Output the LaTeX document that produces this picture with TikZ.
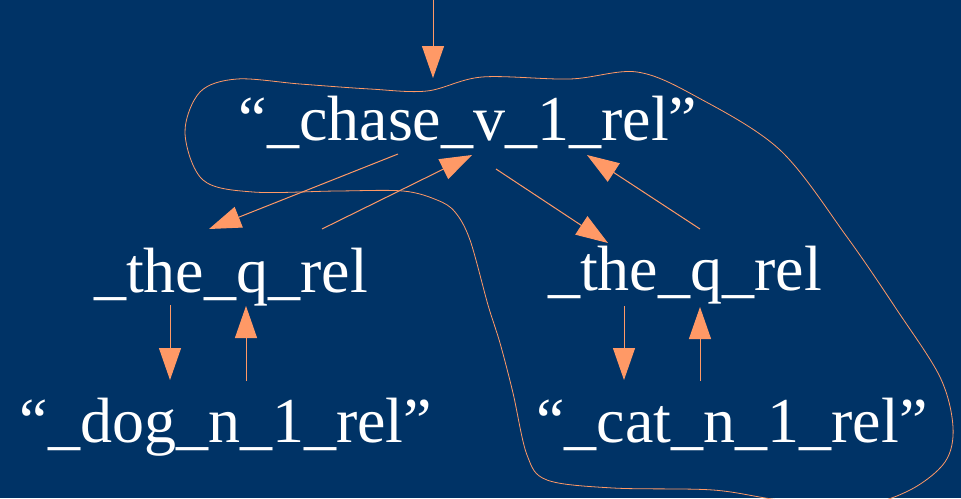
\documentclass[tikz,border=0pt]{standalone}
\usepackage{fontspec}
\setmainfont{Liberation Serif}
\usetikzlibrary{arrows.meta}
\definecolor{slide}{HTML}{003366}
\definecolor{peach}{HTML}{FF9966}
\newcommand{\relfont}{\fontsize{64}{72}\selectfont}

\begin{document}
\begin{tikzpicture}[x=1pt, y=-1pt,
  rel/.style={text=white, font=\relfont, inner sep=0pt, anchor=base},
  arrow/.style={draw=peach, line width=1pt,
    -{Triangle[length=32pt, width=22pt, fill=peach]}}
]
\fill[slide] (0,0) rectangle (961,498);
\clip (0,0) rectangle (961,498);

\node[rel] (chase) at (468,140) {“\_chase\_v\_1\_rel”};
\node[rel] (theL) at (231,292) {\_the\_q\_rel};
\node[rel] (theR) at (685,290) {\_the\_q\_rel};
\node[rel] (dog) at (226,442) {“\_dog\_n\_1\_rel”};
\node[rel] (cat) at (732,442) {“\_cat\_n\_1\_rel”};
\coordinate (root) at (433,0);

% loop round the verb and its second argument
\draw[peach, line width=0.8pt] plot[smooth cycle, tension=0.55] coordinates {
  (237,79) (300,84) (370,89) (427,91) (482,77) (570,79) (637,72) (697,97)
  (780,150) (847,237) (897,310) (940,377) (953,427) (945,462) (910,490)
  (860,505) (780,500) (713,490) (613,488) (547,480) (527,455) (513,393)
  (500,343) (488,305) (470,240) (455,212) (437,200) (403,191) (337,191)
  (253,192) (203,180) (185,133) (200,92)};

\draw[arrow] (root) -- ([shift={(-35,-62)}]chase.base);
\draw[arrow] ([shift={(-70,14)}]chase.base) -- ([shift={(-22,-63)}]theL.base);
\draw[arrow] ([shift={(91,-63)}]theL.base) -- ([shift={(4,15)}]chase.base);
\draw[arrow] ([shift={(28,29)}]chase.base) -- ([shift={(-77,-47)}]theR.base);
\draw[arrow] ([shift={(15,-61)}]theR.base) -- ([shift={(119,15)}]chase.base);
\draw[arrow] ([shift={(-61,13)}]theL.base) -- ([shift={(-56,-62)}]dog.base);
\draw[arrow] ([shift={(20,-61)}]dog.base) -- ([shift={(15,14)}]theL.base);
\draw[arrow] ([shift={(-61,16)}]theR.base) -- ([shift={(-108,-62)}]cat.base);
\draw[arrow] ([shift={(-32,-61)}]cat.base) -- ([shift={(15,17)}]theR.base);
\end{tikzpicture}
\end{document}
